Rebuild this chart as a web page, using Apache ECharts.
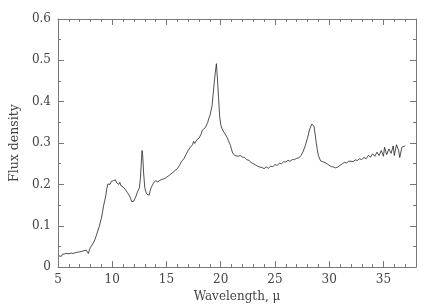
<!DOCTYPE html>
<html>
<head>
<meta charset="utf-8">
<script src="https://cdn.jsdelivr.net/npm/echarts@6/dist/echarts.min.js"></script>
<style>html,body{margin:0;padding:0;background:#fff}#c{width:435px;height:308px}</style>
</head>
<body>
<div id="c"></div>
<script>
const wavelength = [5.1,5.2,5.3,5.4,5.5,5.6,5.7,5.8,5.9,6.0,6.1,6.2,6.3,6.4,6.5,6.6,6.7,6.8,6.9,7.0,7.1,7.2,7.3,7.4,7.5,7.6,7.7,7.8,7.9,8.0,8.2,8.4,8.6,8.8,9.0,9.1,9.2,9.3,9.4,9.5,9.6,9.7,9.8,9.9,10.0,10.1,10.2,10.3,10.4,10.5,10.6,10.7,10.8,10.9,11.0,11.1,11.2,11.3,11.4,11.5,11.6,11.7,11.8,11.9,12.0,12.1,12.2,12.3,12.4,12.5,12.6,12.7,12.75,12.8,12.9,13.0,13.1,13.2,13.3,13.4,13.5,13.6,13.7,13.8,13.9,14.0,14.2,14.4,14.6,14.8,15.0,15.2,15.4,15.6,15.8,16.0,16.2,16.4,16.6,16.8,17.0,17.2,17.4,17.5,17.6,17.8,18.0,18.2,18.3,18.4,18.6,18.8,18.9,19.0,19.1,19.2,19.3,19.4,19.5,19.6,19.65,19.7,19.8,19.9,20.0,20.1,20.2,20.3,20.4,20.5,20.6,20.7,20.8,20.9,21.0,21.1,21.2,21.3,21.4,21.6,21.8,22.0,22.2,22.4,22.6,22.8,23.0,23.2,23.4,23.6,23.8,24.0,24.2,24.4,24.6,24.8,25.0,25.2,25.4,25.6,25.8,26.0,26.2,26.4,26.6,26.8,27.0,27.2,27.4,27.6,27.8,28.0,28.2,28.4,28.5,28.6,28.7,28.8,28.9,29.0,29.2,29.4,29.6,29.8,30.0,30.2,30.4,30.6,30.8,31.0,31.2,31.4,31.6,31.8,32.0,32.2,32.4,32.6,32.8,33.0,33.2,33.4,33.6,33.8,34.0,34.2,34.4,34.6,34.8,35.0,35.1,35.3,35.5,35.7,35.9,36.0,36.2,36.4,36.5,36.7,36.8,37.0];
const flux = [0.027,0.030,0.026,0.031,0.028,0.032,0.029,0.033,0.030,0.032,0.029,0.034,0.031,0.033,0.030,0.035,0.032,0.036,0.033,0.037,0.034,0.038,0.035,0.040,0.036,0.041,0.037,0.033,0.042,0.048,0.056,0.066,0.082,0.098,0.118,0.132,0.148,0.160,0.172,0.190,0.201,0.204,0.200,0.207,0.203,0.209,0.205,0.211,0.204,0.208,0.200,0.205,0.197,0.201,0.194,0.197,0.188,0.190,0.180,0.183,0.172,0.166,0.158,0.155,0.160,0.166,0.172,0.180,0.186,0.192,0.215,0.262,0.282,0.272,0.225,0.192,0.182,0.176,0.180,0.174,0.185,0.193,0.198,0.203,0.200,0.209,0.206,0.210,0.212,0.214,0.217,0.221,0.225,0.229,0.234,0.238,0.246,0.256,0.262,0.272,0.282,0.290,0.296,0.304,0.299,0.308,0.312,0.322,0.331,0.327,0.338,0.350,0.360,0.366,0.378,0.390,0.418,0.446,0.470,0.492,0.488,0.455,0.410,0.365,0.345,0.336,0.330,0.326,0.322,0.318,0.313,0.306,0.300,0.294,0.284,0.276,0.272,0.270,0.271,0.268,0.270,0.266,0.265,0.260,0.258,0.253,0.250,0.247,0.244,0.242,0.241,0.238,0.242,0.239,0.244,0.243,0.248,0.246,0.251,0.250,0.255,0.254,0.258,0.256,0.260,0.260,0.263,0.264,0.270,0.280,0.294,0.312,0.334,0.346,0.348,0.340,0.322,0.302,0.284,0.270,0.257,0.255,0.253,0.250,0.246,0.243,0.242,0.240,0.242,0.246,0.250,0.253,0.252,0.256,0.256,0.255,0.259,0.258,0.262,0.260,0.265,0.262,0.270,0.266,0.274,0.268,0.278,0.270,0.282,0.268,0.290,0.272,0.286,0.275,0.293,0.270,0.296,0.282,0.265,0.290,0.287,0.293];
const xTicks = [5,10,15,20,25,30,35];
const yTicks = [0,0.1,0.2,0.3,0.4,0.5,0.6];

const font = 'DejaVu Serif';
const axisCol = '#777';
const txtCol = '#444';
function axisBase(extra){
  return Object.assign({
    axisLine:{show:true,onZero:false,lineStyle:{color:axisCol,width:1}},
    axisTick:{show:true,inside:true,length:6,lineStyle:{color:axisCol}},
    minorTick:{show:true,length:3,lineStyle:{color:axisCol}},
    splitLine:{show:false},
    minorSplitLine:{show:false}
  }, extra);
}
const chart = echarts.init(document.getElementById('c'), null, {renderer:'canvas'});
chart.setOption({
  animation:false,
  backgroundColor:'#fff',
  grid:{left:58,right:19,top:19,bottom:39.5,containLabel:false},
  xAxis:[
    axisBase({type:'value',min:5,max:38,interval:5,position:'bottom',
      minorTick:{show:true,splitNumber:5,length:3,lineStyle:{color:axisCol}},
      name:'Wavelength, μ',nameLocation:'middle',nameGap:22,
      nameTextStyle:{fontFamily:font,fontSize:12,color:txtCol},
      axisLabel:{margin:7,fontFamily:font,fontSize:12,color:txtCol,
        formatter:v=>xTicks.includes(v)?String(v):''}}),
    axisBase({type:'value',min:5,max:38,interval:5,position:'top',
      minorTick:{show:true,splitNumber:5,length:3,lineStyle:{color:axisCol}},
      axisLabel:{show:false}})
  ],
  yAxis:[
    axisBase({type:'value',min:0,max:0.6,interval:0.1,position:'left',
      minorTick:{show:true,splitNumber:2,length:3,lineStyle:{color:axisCol}},
      name:'Flux density',nameLocation:'middle',nameGap:31,nameRotate:90,
      nameTextStyle:{fontFamily:font,fontSize:12.5,color:txtCol},
      axisLabel:{margin:7,fontFamily:font,fontSize:12,color:txtCol,
        formatter:v=>{const r=Math.round(v*10)/10; return yTicks.includes(r)?(r===0?'0':r.toFixed(1)):'';}}}),
    axisBase({type:'value',min:0,max:0.6,interval:0.1,position:'right',
      minorTick:{show:true,splitNumber:2,length:3,lineStyle:{color:axisCol}},
      axisLabel:{show:false}})
  ],
  series:[{
    type:'line',
    xAxisIndex:0,yAxisIndex:0,
    data:wavelength.map((w,i)=>[w,flux[i]]),
    showSymbol:false,symbol:'none',
    lineStyle:{color:'#222',width:0.8},
    smooth:false
  }]
});
</script>
</body>
</html>
